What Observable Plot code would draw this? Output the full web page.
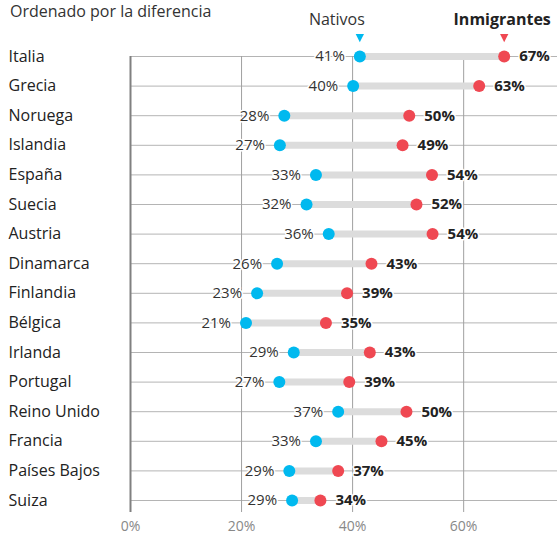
<!DOCTYPE html>
<html>
<head>
<meta charset="utf-8">
<script src="https://cdn.jsdelivr.net/npm/d3@7"></script>
<script src="https://cdn.jsdelivr.net/npm/@observablehq/plot@0.6"></script>
<style>
  html, body { margin: 0; padding: 0; background: #fff; }
  #wrap { position: relative; width: 557px; height: 534px; }
  #title { position: absolute; left: 10px; top: 1px; font-family: 'Open Sans', sans-serif; font-size: 16px; line-height: 20px; color: #333; }
  #chart { position: absolute; left: 0; top: 0; }
</style>
</head>
<body>
<div id="wrap">
  <div id="chart"></div>
  <div id="title">Ordenado por la diferencia</div>
</div>
<script>
const countries = ["Italia","Grecia","Noruega","Islandia","España","Suecia","Austria","Dinamarca","Finlandia","Bélgica","Irlanda","Portugal","Reino Unido","Francia","Países Bajos","Suiza"];
const nativos = [41.3,40.1,27.7,26.9,33.4,31.7,35.7,26.4,22.8,20.8,29.4,26.8,37.4,33.4,28.6,29.1];
const inmigrantes = [67.3,62.8,50.2,49.0,54.3,51.5,54.4,43.4,39.0,35.2,43.1,39.4,49.7,45.2,37.4,34.2];
const xTicks = [0,20,40,60];
const seriesNames = ["Nativos","Inmigrantes"];

const BLUE = "#00b9ef", RED = "#ef4852";
const data = countries.map((c,i)=>({pais:c, idx:i, nat:nativos[i], inm:inmigrantes[i]}));
const first = [data[0]];

const triDown = {
  draw(ctx, size) {
    const r = Math.sqrt(size / Math.PI);
    ctx.moveTo(0, 1.5 * r);
    ctx.lineTo(-1.3 * r, -1.1 * r);
    ctx.lineTo(1.3 * r, -1.1 * r);
    ctx.closePath();
  }
};

const chart = Plot.plot({
  width: 557, height: 534,
  marginLeft: 130, marginRight: 0, marginTop: 56, marginBottom: 22,
  style: {fontFamily: "'Open Sans', sans-serif", background: "transparent", overflow: "visible"},
  x: {domain: [0, 76.9]},
  y: {type: "linear", domain: [0, countries.length - 1], range: [56, 500], axis: null},
  marks: [
    Plot.ruleY(data, {y: "idx", stroke: "#b4b4b4", strokeWidth: 1}),
    Plot.ruleX(xTicks.filter(d => d > 0), {stroke: "#a0a0a0", strokeWidth: 1}),
    Plot.ruleX([0], {stroke: "#808080", strokeWidth: 2}),
    Plot.axisX({ticks: xTicks, tickSize: 0, tickPadding: 9, tickFormat: d => d + "%", fontSize: 14, fill: "#888", label: null}),
    Plot.ruleY(data, {y: "idx", x1: "nat", x2: "inm", stroke: "#dcdcdc", strokeWidth: 7}),
    Plot.dot(data, {x: "nat", y: "idx", r: 6, fill: BLUE}),
    Plot.dot(data, {x: "inm", y: "idx", r: 6, fill: RED}),
    Plot.text(data, {x: "nat", y: "idx", text: d => Math.round(d.nat) + "%", textAnchor: "end", dx: -15, fontSize: 15, fill: "#333", stroke: "white", strokeWidth: 3, paintOrder: "stroke"}),
    Plot.text(data, {x: "inm", y: "idx", text: d => Math.round(d.inm) + "%", textAnchor: "start", dx: 15, fontSize: 15, fontWeight: "bold", fill: "#222", stroke: "white", strokeWidth: 3, paintOrder: "stroke"}),
    Plot.text(data, {y: "idx", text: "pais", frameAnchor: "left", textAnchor: "start", dx: -122, fontSize: 16, fill: "#222"}),
    // legend
    Plot.dot(first, {x: "nat", y: "idx", symbol: triDown, r: 3.2, fill: BLUE, dy: -19}),
    Plot.dot(first, {x: "inm", y: "idx", symbol: triDown, r: 3.2, fill: RED, dy: -19}),
    Plot.text(first, {x: "nat", y: "idx", text: () => seriesNames[0], textAnchor: "end", dx: 5, dy: -37, fontSize: 16, fill: "#333"}),
    Plot.text(first, {x: "inm", y: "idx", text: () => seriesNames[1], textAnchor: "middle", dx: -2, dy: -37, fontSize: 16, fontWeight: "bold", fill: "#222"})
  ]
});
document.getElementById("chart").appendChild(chart);
</script>
</body>
</html>
